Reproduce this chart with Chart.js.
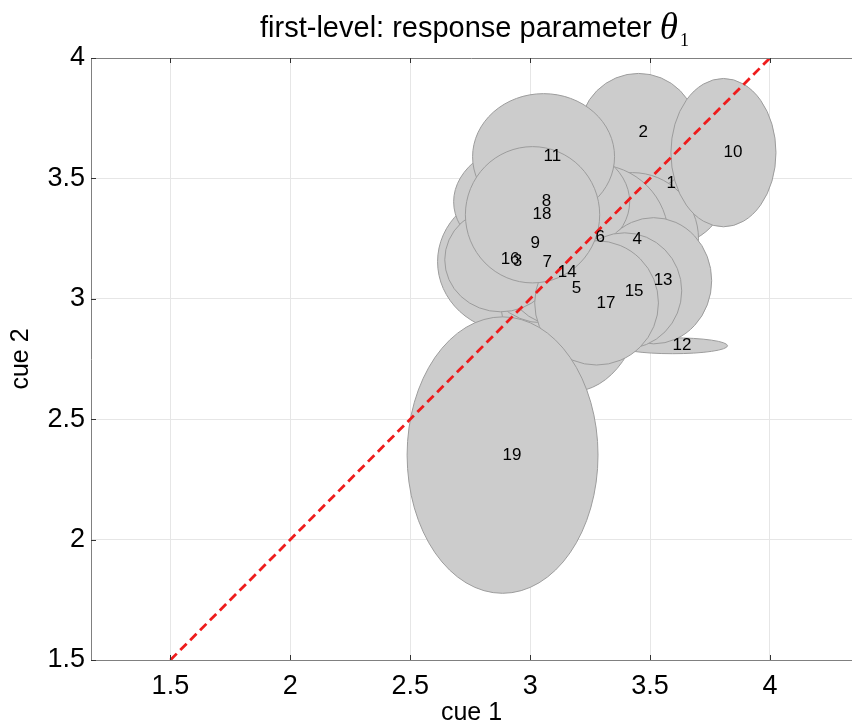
<!DOCTYPE html>
<html>
<head>
<meta charset="utf-8">
<script src="https://cdn.jsdelivr.net/npm/chart.js@4.4.0/dist/chart.umd.min.js"></script>
<style>
html,body{margin:0;padding:0;background:#fff;}
#wrap{width:852px;height:728px;position:relative;}
</style>
</head>
<body>
<div id="wrap"><canvas id="c" width="852" height="728"></canvas></div>
<script>
// ---------------- data ----------------
const subjectIds = ['1','2','3','4','5','6','7','8','9','10','11','12','13','14','15','16','17','18','19'];
const cue1Mean   = [3.569,3.452,2.927,3.427,3.173,3.273,3.052,3.048,3.002,3.806,3.056,3.594,3.515,3.115,3.394,2.877,3.277,3.010,2.885];
const cue2Mean   = [3.478,3.690,3.154,3.249,3.042,3.254,3.150,3.403,3.229,3.607,3.590,2.805,3.075,3.108,3.033,3.162,2.983,3.349,2.351];
const cue1Spread = [0.258,0.246,0.313,0.275,0.300,0.304,0.250,0.367,0.250,0.219,0.296,0.229,0.242,0.217,0.238,0.233,0.258,0.280,0.398];
const cue2Spread = [0.258,0.246,0.291,0.275,0.428,0.304,0.250,0.258,0.250,0.308,0.262,0.033,0.262,0.217,0.241,0.216,0.258,0.283,0.574];
const identityX  = [1.5, 4];
const identityY  = [1.5, 4];
const xTicks = [1.5, 2, 2.5, 3, 3.5, 4];
const yTicks = [1.5, 2, 2.5, 3, 3.5, 4];
const xRange = [1.169, 4.342];
const yRange = [1.5, 4];
const titleMain = 'first-level: response parameter ';
const titleSymbol = '\u03B8';
const titleSub = '1';
const xTitle = 'cue 1';
const yTitle = 'cue 2';

// ---------------- ellipse element / controller ----------------
class EllipseElement extends Chart.Element {
  static id = 'ellipseMark';
  static defaults = { backgroundColor: '#cccccc', borderColor: '#9a9a9a', borderWidth: 1 };
  draw(ctx) {
    const o = this.options;
    ctx.save();
    ctx.beginPath();
    ctx.ellipse(this.x, this.y, Math.max(this.rx, 0.1), Math.max(this.ry, 0.1), 0, 0, Math.PI * 2);
    ctx.fillStyle = o.backgroundColor;
    ctx.fill();
    if (o.borderWidth) {
      ctx.lineWidth = o.borderWidth;
      ctx.strokeStyle = o.borderColor;
      ctx.stroke();
    }
    ctx.restore();
  }
  inRange(mx, my) { const dx = (mx - this.x) / this.rx, dy = (my - this.y) / this.ry; return dx * dx + dy * dy <= 1; }
  inXRange(mx) { return Math.abs(mx - this.x) <= this.rx; }
  inYRange(my) { return Math.abs(my - this.y) <= this.ry; }
  getCenterPoint() { return { x: this.x, y: this.y }; }
  tooltipPosition() { return { x: this.x, y: this.y }; }
  size() { return 0; }
}

class EllipseController extends Chart.BubbleController {
  static id = 'ellipse';
  static defaults = { datasetElementType: false, dataElementType: 'ellipseMark' };
  static overrides = { scales: { x: { type: 'linear' }, y: { type: 'linear' } } };
  parseObjectData(meta, data, start, count) {
    const parsed = super.parseObjectData(meta, data, start, count);
    for (let i = 0; i < parsed.length; i++) {
      const item = data[start + i];
      parsed[i]._custom = { rx: +item.rx, ry: +item.ry };
    }
    return parsed;
  }
  getMaxOverflow() { return false; }
  resolveDataElementOptions(index, mode) {
    return Chart.DatasetController.prototype.resolveDataElementOptions.call(this, index, mode);
  }
  updateElements(points, start, count, mode) {
    const meta = this._cachedMeta;
    const xs = meta.xScale, ys = meta.yScale;
    for (let i = start; i < start + count; i++) {
      const p = this.getParsed(i);
      const c = p._custom || { rx: 0, ry: 0 };
      const px = xs.getPixelForValue(p.x), py = ys.getPixelForValue(p.y);
      this.updateElement(points[i], i, {
        x: px, y: py,
        rx: Math.abs(xs.getPixelForValue(p.x + c.rx) - px),
        ry: Math.abs(ys.getPixelForValue(p.y + c.ry) - py),
        skip: false,
        options: this.resolveDataElementOptions(i, mode)
      }, mode);
    }
  }
}
Chart.register(EllipseElement, EllipseController);

// ---------------- plugins ----------------
const labelPlugin = {
  id: 'ellipseLabels',
  afterDatasetsDraw(chart) {
    const meta = chart.getDatasetMeta(1);
    const ctx = chart.ctx;
    ctx.save();
    ctx.font = '17px "Liberation Sans", Arial, Helvetica, sans-serif';
    ctx.fillStyle = '#000';
    ctx.textAlign = 'left';
    ctx.textBaseline = 'middle';
    meta.data.forEach((el, i) => ctx.fillText(subjectIds[i], el.x, el.y));
    ctx.restore();
  }
};

const framePlugin = {
  id: 'frame',
  afterDatasetsDraw(chart) {
    const ctx = chart.ctx, a = chart.chartArea;
    const xs = chart.scales.x, ys = chart.scales.y;
    ctx.save();
    ctx.strokeStyle = '#808080';
    ctx.lineWidth = 1;
    ctx.beginPath();
    ctx.moveTo(a.left, a.top + 0.5); ctx.lineTo(a.right, a.top + 0.5);
    ctx.stroke();
    ctx.strokeStyle = '#333';
    ctx.beginPath();
    xTicks.forEach(v => {
      const px = Math.round(xs.getPixelForValue(v)) + 0.5;
      ctx.moveTo(px, a.bottom); ctx.lineTo(px, a.bottom - 5);
      ctx.moveTo(px, a.top); ctx.lineTo(px, a.top + 5);
    });
    yTicks.forEach(v => {
      const py = Math.round(ys.getPixelForValue(v)) + 0.5;
      ctx.moveTo(a.left, py); ctx.lineTo(a.left + 5, py);
    });
    ctx.stroke();
    ctx.restore();
  }
};

const titlePlugin = {
  id: 'mathTitle',
  afterDraw(chart) {
    const ctx = chart.ctx, a = chart.chartArea;
    const f1 = '29px "Liberation Sans", Arial, Helvetica, sans-serif';
    const f2 = 'italic 37px "Liberation Serif", "Times New Roman", serif';
    const f3 = '18px "Liberation Serif", "Times New Roman", serif';
    ctx.save();
    ctx.fillStyle = '#000';
    ctx.textAlign = 'left';
    ctx.textBaseline = 'alphabetic';
    ctx.font = f1; const w1 = ctx.measureText(titleMain).width;
    ctx.font = f2; const w2 = ctx.measureText(titleSymbol).width;
    ctx.font = f3; const w3 = ctx.measureText(titleSub).width;
    const total = w1 + w2 + w3 + 2;
    let x = (a.left + a.right) / 2 - total / 2 + 3;
    const base = 37;
    ctx.font = f1; ctx.fillText(titleMain, x, base); x += w1;
    ctx.font = f2; ctx.fillText(titleSymbol, x, base + 2); x += w2 + 2;
    ctx.font = f3; ctx.fillText(titleSub, x, base + 9);
    ctx.restore();
  }
};

// ---------------- chart ----------------
Chart.defaults.font.family = '"Liberation Sans", Arial, Helvetica, sans-serif';
Chart.defaults.color = '#000';

const ellipseData = subjectIds.map((id, i) => ({ x: cue1Mean[i], y: cue2Mean[i], rx: cue1Spread[i], ry: cue2Spread[i] }));
const lineData = identityX.map((v, i) => ({ x: v, y: identityY[i] }));

new Chart(document.getElementById('c'), {
  type: 'scatter',
  data: {
    datasets: [
      {
        type: 'line',
        data: lineData,
        borderColor: '#ee1c1c',
        borderWidth: 2.8,
        borderDash: [9, 5],
        pointRadius: 0,
        fill: false,
        tension: 0
      },
      {
        type: 'ellipse',
        data: ellipseData,
        backgroundColor: '#cccccc',
        borderColor: '#9c9c9c',
        borderWidth: 1
      }
    ]
  },
  options: {
    responsive: false,
    animation: false,
    devicePixelRatio: 1,
    events: [],
    layout: { padding: { top: 58, right: 0, bottom: 0, left: 0 } },
    plugins: { legend: { display: false }, tooltip: { enabled: false }, title: { display: false } },
    scales: {
      x: {
        type: 'linear',
        min: xRange[0], max: xRange[1],
        afterBuildTicks: s => { s.ticks = xTicks.map(v => ({ value: v })); },
        afterFit: s => { s.height = 68; },
        grid: { color: '#e6e6e6', lineWidth: 1, drawTicks: false },
        border: { display: true, color: '#808080', width: 1 },
        ticks: { padding: 10, font: { size: 27 }, color: '#000', callback: v => String(v), maxRotation: 0, autoSkip: false },
        title: { display: true, text: xTitle, font: { size: 25 }, color: '#000', padding: { top: 0, bottom: 0 } }
      },
      y: {
        type: 'linear',
        min: yRange[0], max: yRange[1],
        afterBuildTicks: s => { s.ticks = yTicks.map(v => ({ value: v })); },
        afterFit: s => { s.width = 91; },
        grid: { color: '#e6e6e6', lineWidth: 1, drawTicks: false },
        border: { display: true, color: '#808080', width: 1 },
        ticks: { padding: 6, font: { size: 27 }, color: '#000', callback: v => String(v), autoSkip: false },
        title: { display: true, text: yTitle, font: { size: 25 }, color: '#000', padding: { top: 6, bottom: 0 } }
      }
    }
  },
  plugins: [labelPlugin, framePlugin, titlePlugin]
});
</script>
</body>
</html>
